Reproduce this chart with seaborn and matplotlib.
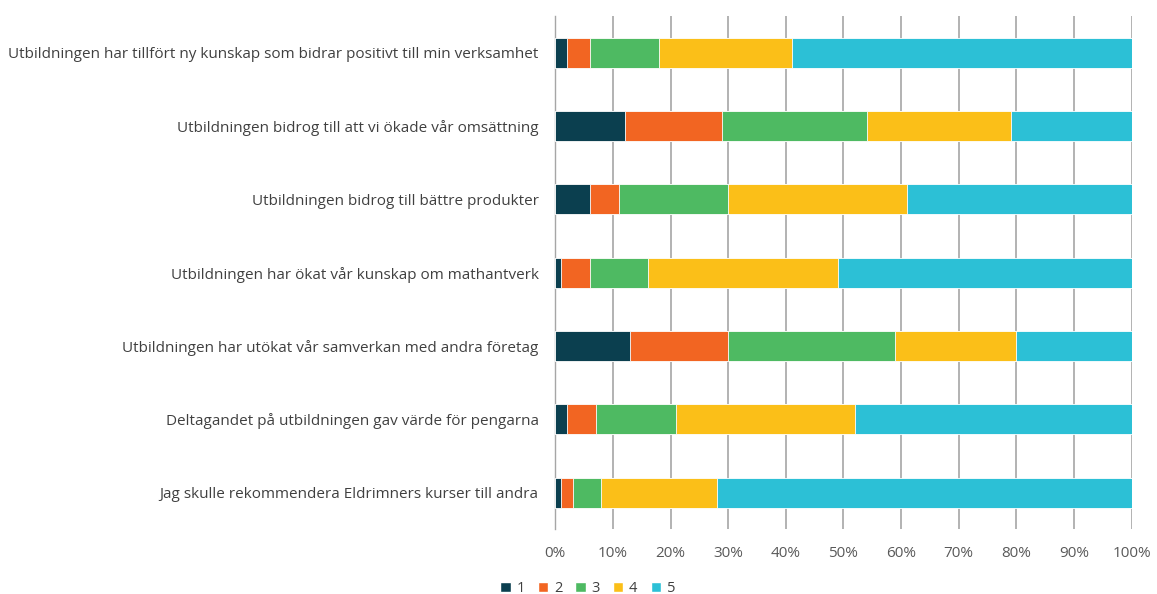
import numpy as np
import pandas as pd
import matplotlib
matplotlib.use("Agg")
import matplotlib.pyplot as plt
from matplotlib.patches import Patch
import seaborn as sns

# Data (share of answers per grade, %)
statements = [
    "Utbildningen har tillfört ny kunskap som bidrar positivt till min verksamhet",
    "Utbildningen bidrog till att vi ökade vår omsättning",
    "Utbildningen bidrog till bättre produkter",
    "Utbildningen har ökat vår kunskap om mathantverk",
    "Utbildningen har utökat vår samverkan med andra företag",
    "Deltagandet på utbildningen gav värde för pengarna",
    "Jag skulle rekommendera Eldrimners kurser till andra",
]
grade_1 = [2, 12, 6, 1, 13, 2, 1]
grade_2 = [4, 17, 5, 5, 17, 5, 2]
grade_3 = [12, 25, 19, 10, 29, 14, 5]
grade_4 = [23, 25, 31, 33, 21, 31, 20]
grade_5 = [59, 21, 39, 51, 20, 48, 72]
grades = ["1", "2", "3", "4", "5"]
colors = ["#0B3F4F", "#F26522", "#4EBA62", "#FBBF18", "#2CC0D6"]

sns.set_style("white")
plt.rcParams["font.family"] = ["Open Sans", "DejaVu Sans"]

df = pd.DataFrame({"statement": statements, "1": grade_1, "2": grade_2,
                   "3": grade_3, "4": grade_4, "5": grade_5})
cum = df[grades].cumsum(axis=1)

fig, ax = plt.subplots(figsize=(11.57, 5.94), dpi=100)
fig.subplots_adjust(left=0.48, right=0.978, top=0.973, bottom=0.109)

# stacked bars: draw cumulative totals from the largest down
for g, c in reversed(list(zip(grades, colors))):
    sns.barplot(x=cum[g], y=df["statement"], orient="h", color=c, saturation=1,
                width=0.41, edgecolor="white", linewidth=0.6, ax=ax, zorder=3)

ax.set_xlim(0, 100)
ax.set_xticks(np.arange(0, 101, 10))
ax.set_xticklabels([f"{v}%" for v in range(0, 101, 10)])
ax.set_xlabel("")
ax.set_ylabel("")
ax.grid(axis="x", color="#A6A6A6", linewidth=1.2, zorder=0)
ax.set_axisbelow(True)

for s in ["top", "right", "bottom"]:
    ax.spines[s].set_visible(False)
ax.spines["left"].set_color("#A6A6A6")
ax.spines["left"].set_linewidth(1.0)

ax.set_yticks(np.arange(-0.5, len(statements), 1.0), minor=True)
ax.tick_params(axis="y", which="major", length=0, pad=12, labelsize=11, labelcolor="#404040")
ax.tick_params(axis="y", which="minor", length=5, color="#A6A6A6", width=1)
ax.tick_params(axis="x", length=0, pad=12, labelsize=11, labelcolor="#595959")

handles = [Patch(facecolor=c, label=g) for g, c in zip(grades, colors)]
fig.legend(handles=handles, loc="lower center", bbox_to_anchor=(0.508, -0.025),
           ncol=5, frameon=False, fontsize=10.5, handlelength=0.7, handleheight=0.7,
           handletextpad=0.4, columnspacing=0.9, labelcolor="#404040")

fig.savefig("out.png", dpi=100)
